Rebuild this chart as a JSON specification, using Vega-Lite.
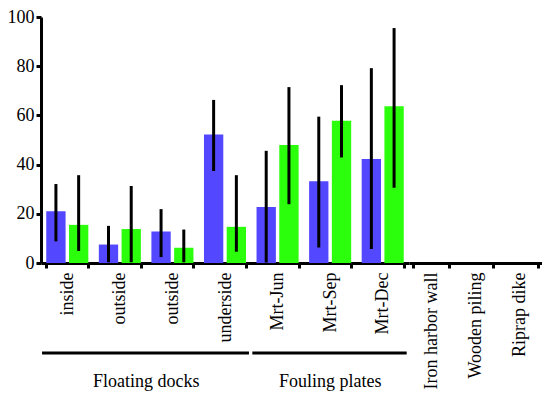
{
  "$schema": "https://vega.github.io/schema/vega-lite/v6.json",
  "padding": {"left": 7, "top": 8, "right": 0, "bottom": 0},
  "spacing": 0,
  "bounds": "flush",
  "background": "white",
  "config": {
    "view": {"stroke": null},
    "font": "Times New Roman, Liberation Serif, serif",
    "axis": {
      "domainColor": "black", "domainWidth": 3, "tickColor": "black", "tickWidth": 3, "tickSize": 5,
      "labelColor": "black", "labelFont": "Times New Roman, Liberation Serif, serif", "labelFontSize": 18, "grid": false, "title": null
    }
  },
  "datasets": {
    "measurements": [
      {"cat": "inside", "series": "Series 1", "value": 21.0, "lo": 8.8, "hi": 32.1},
      {"cat": "inside", "series": "Series 2", "value": 15.5, "lo": 4.9, "hi": 35.7},
      {"cat": "outside", "series": "Series 1", "value": 7.5, "lo": 0.3, "hi": 15.1},
      {"cat": "outside", "series": "Series 2", "value": 13.8, "lo": 0.3, "hi": 31.3},
      {"cat": " outside", "series": "Series 1", "value": 12.8, "lo": 2.4, "hi": 21.9},
      {"cat": " outside", "series": "Series 2", "value": 6.2, "lo": 0.3, "hi": 13.6},
      {"cat": "underside", "series": "Series 1", "value": 52.2, "lo": 37.4, "hi": 66.3},
      {"cat": "underside", "series": "Series 2", "value": 14.7, "lo": 4.6, "hi": 35.7},
      {"cat": "Mrt-Jun", "series": "Series 1", "value": 22.8, "lo": 0.2, "hi": 45.6},
      {"cat": "Mrt-Jun", "series": "Series 2", "value": 48.0, "lo": 23.9, "hi": 71.5},
      {"cat": "Mrt-Sep", "series": "Series 1", "value": 33.2, "lo": 6.3, "hi": 59.5},
      {"cat": "Mrt-Sep", "series": "Series 2", "value": 57.8, "lo": 42.9, "hi": 72.3},
      {"cat": "Mrt-Dec", "series": "Series 1", "value": 42.3, "lo": 5.7, "hi": 79.2},
      {"cat": "Mrt-Dec", "series": "Series 2", "value": 63.7, "lo": 30.6, "hi": 95.5}
    ],
    "groups": [
      {"group": "Floating docks", "first": "inside", "last": "underside", "mid": "outside"},
      {"group": "Fouling plates", "first": "Mrt-Jun", "last": "Mrt-Dec", "mid": "Mrt-Sep"}
    ],
    "others": [
      {"cat": "Iron harbor wall"},
      {"cat": "Wooden piling"},
      {"cat": "Riprap dike"}
    ]
  },
  "hconcat": [
    {
      "width": 368,
      "height": 246,
      "data": {"name": "measurements"},
      "encoding": {
        "x": {
          "field": "cat", "type": "nominal",
          "scale": {"domain": ["inside", "outside", " outside", "underside", "Mrt-Jun", "Mrt-Sep", "Mrt-Dec"], "paddingInner": 0.2, "paddingOuter": 0.1},
          "axis": {"labelAngle": -90, "labelAlign": "right", "labelBaseline": "middle", "labelPadding": 4, "tickBand": "extent", "title": null}
        }
      },
      "layer": [
        {
          "mark": {"type": "bar"},
          "encoding": {
            "xOffset": {"field": "series", "type": "nominal", "scale": {"paddingInner": 0.15, "paddingOuter": 0}},
            "y": {"field": "value", "type": "quantitative", "scale": {"domain": [0, 100], "nice": false},
                  "axis": {"values": [0, 20, 40, 60, 80, 100], "labelPadding": 2, "title": null}},
            "color": {"field": "series", "type": "nominal", "scale": {"domain": ["Series 1", "Series 2"], "range": ["#5347ff", "#2cff0c"]}, "legend": null}
          }
        },
        {
          "mark": {"type": "rule", "color": "black", "strokeWidth": 3},
          "encoding": {
            "xOffset": {"field": "series", "type": "nominal"},
            "y": {"field": "lo", "type": "quantitative"},
            "y2": {"field": "hi"}
          }
        },
        {
          "data": {"name": "groups"},
          "mark": {"type": "rule", "color": "black", "strokeWidth": 3},
          "encoding": {
            "x": {"field": "first", "type": "nominal", "bandPosition": -0.1},
            "x2": {"field": "last", "bandPosition": 1.07},
            "y": {"datum": -36.6, "type": "quantitative"}
          }
        },
        {
          "data": {"name": "groups"},
          "transform": [{"filter": "datum.group === 'Floating docks'"}],
          "mark": {"type": "text", "fontSize": 18, "font": "Times New Roman, Liberation Serif, serif", "color": "black", "baseline": "middle", "align": "center"},
          "encoding": {
            "x": {"field": "mid", "type": "nominal", "bandPosition": 1.125},
            "y": {"datum": -48.4, "type": "quantitative"},
            "text": {"field": "group"}
          }
        },
        {
          "data": {"name": "groups"},
          "transform": [{"filter": "datum.group === 'Fouling plates'"}],
          "mark": {"type": "text", "fontSize": 18, "font": "Times New Roman, Liberation Serif, serif", "color": "black", "baseline": "middle", "align": "center"},
          "encoding": {
            "x": {"field": "mid", "type": "nominal", "bandPosition": 0.5},
            "y": {"datum": -48.4, "type": "quantitative"},
            "text": {"field": "group"}
          }
        }
      ]
    },
    {
      "width": 133,
      "height": 246,
      "data": {"name": "others"},
      "mark": {"type": "bar"},
      "encoding": {
        "x": {
          "field": "cat", "type": "nominal",
          "scale": {"domain": ["Iron harbor wall", "Wooden piling", "Riprap dike"], "paddingInner": 0.2, "paddingOuter": 0.1},
          "axis": {"labelAngle": -90, "labelAlign": "right", "labelBaseline": "middle", "labelPadding": 4, "tickBand": "extent", "title": null}
        },
        "y": {"field": "value", "type": "quantitative", "scale": {"domain": [0, 100], "nice": false}, "axis": null}
      }
    }
  ]
}
